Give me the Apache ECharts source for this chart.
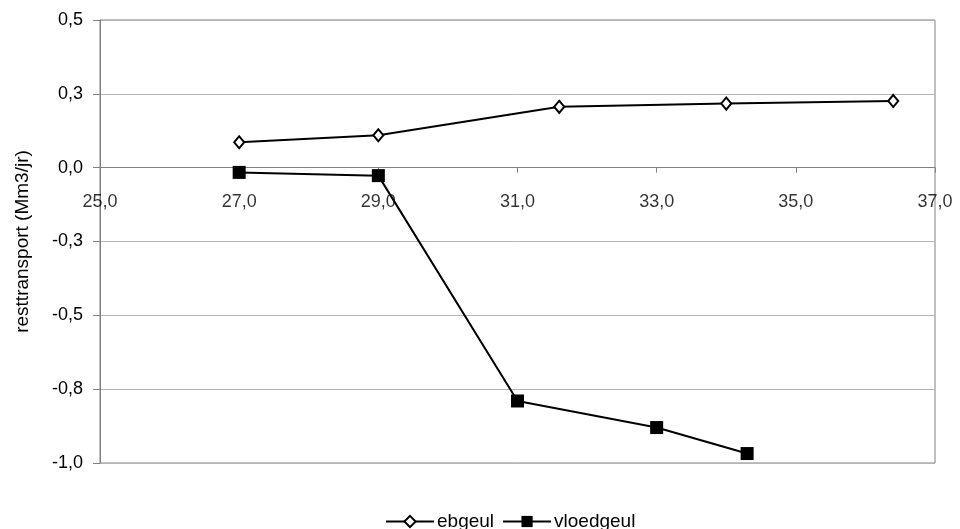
<!DOCTYPE html>
<html>
<head>
<meta charset="utf-8">
<script src="https://cdn.jsdelivr.net/npm/echarts@6/dist/echarts.min.js"></script>
<style>html,body{margin:0;padding:0;background:#fff;}#c{width:960px;height:529px;}</style>
</head>
<body>
<div id="c"></div>
<script>
const seriesNames = ['ebgeul', 'vloedgeul'];
const ebX = [27.0, 29.0, 31.6, 34.0, 36.4];
const ebY = [0.086, 0.110, 0.206, 0.217, 0.226];
const vlX = [27.0, 29.0, 31.0, 33.0, 34.3];
const vlY = [-0.016, -0.027, -0.79, -0.88, -0.968];
const xTicks = [25, 27, 29, 31, 33, 35, 37];
const yAxisTitle = 'resttransport (Mm3/jr)';

const fmt = v => v.toFixed(1).replace('.', ',');
const pair = (xs, ys) => xs.map((x, i) => [x, ys[i]]);
const FONT = '"Liberation Sans", Arial, sans-serif';

const chart = echarts.init(document.getElementById('c'));
chart.setOption({
  animation: false,
  backgroundColor: '#fff',
  textStyle: { fontFamily: FONT, color: '#000' },
  grid: { left: 100, right: 25, top: 20, bottom: 66, show: true, borderColor: '#808080', borderWidth: 1, backgroundColor: 'transparent' },
  xAxis: {
    type: 'value', min: 25, max: 37, interval: 2,
    axisLine: { onZero: true, lineStyle: { color: '#808080', width: 1 } },
    axisTick: { show: true, length: 5, lineStyle: { color: '#808080' } },
    axisLabel: { show: false },
    splitLine: { show: false }
  },
  yAxis: {
    type: 'value', min: -1, max: 0.5, interval: 0.25,
    name: yAxisTitle, nameLocation: 'middle', nameGap: 68, nameRotate: 90,
    nameTextStyle: { fontSize: 19, color: '#000', fontFamily: FONT },
    axisLine: { show: true, lineStyle: { color: '#808080' } },
    axisTick: { show: true, length: 7, lineStyle: { color: '#808080' } },
    axisLabel: { formatter: fmt, fontSize: 18, color: '#000', fontFamily: FONT, margin: 17 },
    splitLine: { show: true, lineStyle: { color: '#b4b4b4', width: 1 } }
  },
  legend: {
    left: 380, top: 507, itemWidth: 48, itemHeight: 14, itemGap: 8,
    textStyle: { fontSize: 19, color: '#000', fontFamily: FONT, padding: [0, 0, 0, -2] },
    data: seriesNames
  },
  series: [
    {
      name: seriesNames[0], type: 'line', data: pair(ebX, ebY),
      symbol: 'diamond', symbolSize: [10, 12],
      lineStyle: { color: '#000', width: 2 },
      itemStyle: { color: '#fff', borderColor: '#000', borderWidth: 2 }
    },
    {
      name: seriesNames[1], type: 'line', data: pair(vlX, vlY),
      symbol: 'rect', symbolSize: 13,
      lineStyle: { color: '#000', width: 2 },
      itemStyle: { color: '#000', borderColor: '#000', borderWidth: 0 }
    },
    {
      name: 'xlabels', type: 'scatter', silent: true, clip: false, z: 1,
      data: xTicks.map(v => [v, 0]),
      symbol: 'circle', symbolSize: 2,
      itemStyle: { color: 'rgba(0,0,0,0)' },
      label: {
        show: true, position: 'bottom', distance: 24,
        formatter: p => fmt(p.value[0]),
        fontSize: 18, color: '#000', fontFamily: FONT
      }
    }
  ]
});
</script>
</body>
</html>
